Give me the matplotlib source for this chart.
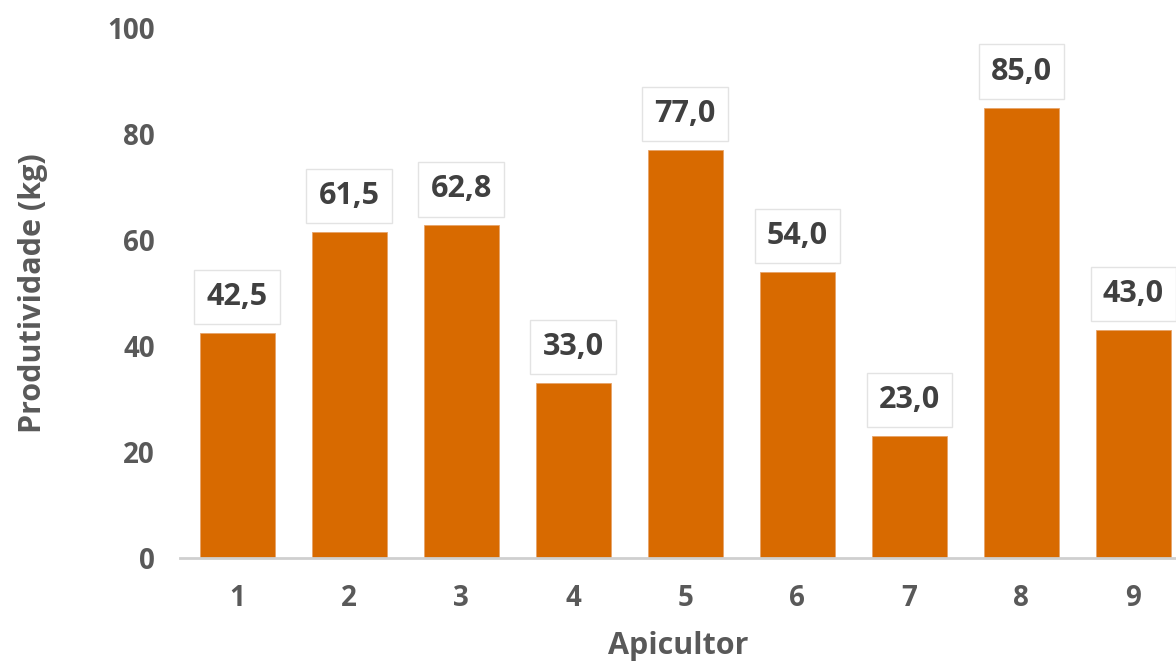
import matplotlib.pyplot as plt

# dados do grafico
apicultores = ['1', '2', '3', '4', '5', '6', '7', '8', '9']
produtividade = [42.5, 61.5, 62.8, 33.0, 77.0, 54.0, 23.0, 85.0, 43.0]
yticks = [0, 20, 40, 60, 80, 100]

plt.rcParams['font.family'] = ['Open Sans', 'DejaVu Sans']
plt.rcParams['font.weight'] = 'bold'

cinza = '#595959'

fig = plt.figure(figsize=(11.76, 6.65), dpi=100)
ax = fig.add_axes([180 / 1176, 107 / 665, 996 / 1176, 530 / 665])

pos = range(len(apicultores))
ax.bar(pos, produtividade, width=0.67, color='#D86A00', edgecolor='#E7A46A', linewidth=0.6, zorder=2)

for x, v in zip(pos, produtividade):
    ax.annotate(f'{v:.1f}'.replace('.', ','), (x, v), xytext=(0, 15), textcoords='offset points',
                ha='center', va='bottom', fontsize=22, fontweight='bold', color='#404040',
                bbox=dict(boxstyle='square,pad=0.4', fc='white', ec='#E3E3E3', lw=1), zorder=3)

ax.set_xlim(-0.51, 8.38)
ax.set_ylim(0, 100)
ax.set_xticks(list(pos))
ax.set_xticklabels(apicultores)
ax.set_yticks(yticks)
ax.tick_params(axis='both', length=0, labelsize=20, labelcolor=cinza)
ax.tick_params(axis='x', pad=19)
ax.tick_params(axis='y', pad=18)

for s in ['top', 'right', 'left']:
    ax.spines[s].set_visible(False)
ax.spines['bottom'].set_color('#CFCFCF')
ax.spines['bottom'].set_linewidth(2)

ax.set_xlabel('Apicultor', fontsize=22, fontweight='bold', color=cinza, labelpad=13)
ax.set_ylabel('Produtividade (kg)', fontsize=22, fontweight='bold', color=cinza, labelpad=43)

fig.savefig('out.png', dpi=100)
